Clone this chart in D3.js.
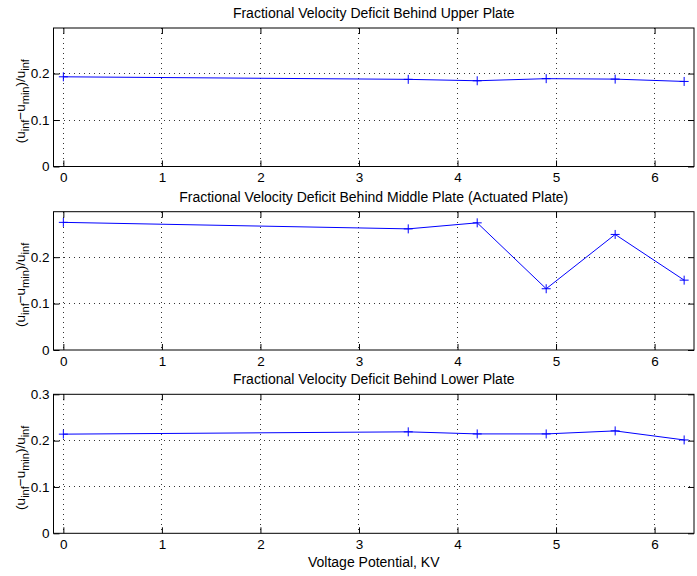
<!DOCTYPE html>
<html>
<head>
<meta charset="utf-8">
<script src="https://cdn.jsdelivr.net/npm/d3@7"></script>
<style>
  body { margin: 0; background: #fff; }
  svg { display: block; font-family: "Liberation Sans", Arial, Helvetica, sans-serif; }
</style>
</head>
<body>
<svg id="chart" width="697" height="576"></svg>
<script>
// ---- data ----
const voltage = [0, 3.5, 4.2, 4.9, 5.6, 6.3];
const upperPlate  = [0.193, 0.1875, 0.1845, 0.189, 0.188, 0.183];
const middlePlate = [0.275, 0.261, 0.274, 0.132, 0.249, 0.1505];
const lowerPlate  = [0.214, 0.219, 0.2145, 0.2145, 0.221, 0.2015];
const xTicks = [0, 1, 2, 3, 4, 5, 6];
const yTicksUpper = [0, 0.1, 0.2];
const yTicksLower = [0, 0.1, 0.2, 0.3];
const titles = [
  "Fractional Velocity Deficit Behind Upper Plate",
  "Fractional Velocity Deficit Behind Middle Plate (Actuated Plate)",
  "Fractional Velocity Deficit Behind Lower Plate"
];
const xLabel = "Voltage Potential, KV";

const panels = [
  { title: titles[0], values: upperPlate,  top: 28,    bottom: 166.5, yMax: 0.298, yTicks: yTicksUpper },
  { title: titles[1], values: middlePlate, top: 211.7, bottom: 350,   yMax: 0.298, yTicks: yTicksUpper },
  { title: titles[2], values: lowerPlate,  top: 394.3, bottom: 533.3, yMax: 0.3,   yTicks: yTicksLower }
];

const svg = d3.select("#chart");
const left = 53.5, right = 694;
const x = d3.scaleLinear().domain([-0.1, 6.4]).range([left, right]);
const tickLen = 6;
const fs = 13.5;

panels.forEach((p, i) => {
  const y = d3.scaleLinear().domain([0, p.yMax]).range([p.bottom, p.top]);
  const g = svg.append("g");

  // grid
  g.selectAll(".vg").data(xTicks).join("line")
    .attr("x1", d => x(d)).attr("x2", d => x(d))
    .attr("y1", p.top).attr("y2", p.bottom)
    .attr("stroke", "#333").attr("stroke-width", 1)
    .attr("stroke-dasharray", "1,4").attr("shape-rendering", "crispEdges");
  g.selectAll(".hg").data(p.yTicks.filter(d => d > 0 && d < p.yMax)).join("line")
    .attr("x1", left).attr("x2", right)
    .attr("y1", d => y(d)).attr("y2", d => y(d))
    .attr("stroke", "#333").attr("stroke-width", 1)
    .attr("stroke-dasharray", "1,4").attr("shape-rendering", "crispEdges");

  // axes via d3 axis (inward ticks)
  const xb = d3.axisBottom(x).tickValues(xTicks).tickSize(-tickLen).tickPadding(6).tickFormat(d3.format("d"));
  const xt = d3.axisTop(x).tickValues(xTicks).tickSize(-tickLen).tickFormat("");
  const yl = d3.axisLeft(y).tickValues(p.yTicks).tickSize(-tickLen).tickPadding(4).tickFormat(d => d === 0 ? "0" : d3.format(".1f")(d));
  const yr = d3.axisRight(y).tickValues(p.yTicks).tickSize(-tickLen).tickFormat("");

  [[xb, `translate(0,${p.bottom})`], [xt, `translate(0,${p.top})`],
   [yl, `translate(${left},0)`], [yr, `translate(${right},0)`]].forEach(([ax, tr]) => {
    const a = g.append("g").attr("transform", tr).call(ax);
    a.select(".domain").remove();
    a.selectAll("line").attr("stroke", "#000");
    a.selectAll("text").attr("font-size", fs).attr("fill", "#000")
      .attr("font-family", "'Liberation Sans', Arial, sans-serif");
  });

  // box
  g.append("rect").attr("x", left).attr("y", p.top)
    .attr("width", right - left).attr("height", p.bottom - p.top)
    .attr("fill", "none").attr("stroke", "#000").attr("stroke-width", 1);

  // line
  const line = d3.line().x((d, k) => x(voltage[k])).y(d => y(d));
  g.append("path").datum(p.values).attr("d", line)
    .attr("fill", "none").attr("stroke", "#0000ff").attr("stroke-width", 1);

  // + markers
  const m = 4.5;
  g.selectAll(".mk").data(p.values).join("path")
    .attr("d", (d, k) => {
      const cx = x(voltage[k]), cy = y(d);
      return `M${cx - m},${cy}H${cx + m}M${cx},${cy - m}V${cy + m}`;
    })
    .attr("stroke", "#0000ff").attr("stroke-width", 1).attr("fill", "none");

  // title
  svg.append("text").attr("x", (left + right) / 2).attr("y", p.top - 10)
    .attr("text-anchor", "middle").attr("font-size", 14).text(p.title);

  // y label
  const cy = (p.top + p.bottom) / 2 + 4;
  const t = svg.append("text")
    .attr("transform", `translate(25,${cy}) rotate(-90)`)
    .attr("text-anchor", "middle").attr("font-size", 13.5);
  t.append("tspan").text("(u");
  t.append("tspan").attr("font-size", 11).attr("dy", 4).text("inf");
  t.append("tspan").attr("dy", -4).text("\u2212u");
  t.append("tspan").attr("font-size", 11).attr("dy", 4).text("min");
  t.append("tspan").attr("dy", -4).text(")/u");
  t.append("tspan").attr("font-size", 11).attr("dy", 4).text("inf");
});

svg.append("text").attr("x", (left + right) / 2).attr("y", 567)
  .attr("text-anchor", "middle").attr("font-size", 14).text(xLabel);
</script>
</body>
</html>
